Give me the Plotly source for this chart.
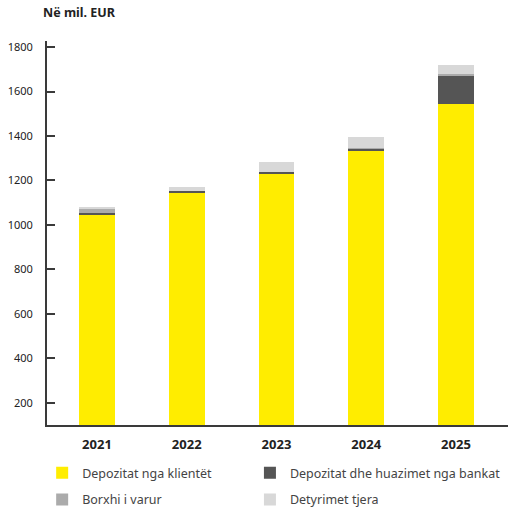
import plotly.graph_objects as go

# Vitet dhe përbërja e detyrimeve (në mil. EUR)
years = ["2021", "2022", "2023", "2024", "2025"]
depozitat_klientet = [1048, 1147, 1232, 1334, 1543]
depozitat_bankat = [7, 7, 7, 8, 130]
borxhi_varur = [17, 0, 0, 6, 5]
detyrimet_tjera = [10, 18, 44, 46, 40]

y_ticks = [200, 400, 600, 800, 1000, 1200, 1400, 1600, 1800]

# each series gets its own legend box so the key forms a 2 x 2 grid
series = [
    ("Depozitat nga klientët", depozitat_klientet, "#FFED00", "legend"),
    ("Depozitat dhe huazimet nga bankat", depozitat_bankat, "#555555", "legend2"),
    ("Borxhi i varur", borxhi_varur, "#ABABAB", "legend3"),
    ("Detyrimet tjera", detyrimet_tjera, "#D8D8D8", "legend4"),
]

FONT = "Noto Sans"

fig = go.Figure()
for name, vals, color, leg in series:
    fig.add_trace(go.Bar(
        x=years, y=vals, name=name, legend=leg,
        marker=dict(color=color, line=dict(width=0)),
        width=0.4,
    ))

legend_common = dict(
    orientation="v", xanchor="left", yanchor="middle",
    xref="container", yref="container",
    font=dict(family=FONT, size=12.5, color="#444444"),
    bgcolor="rgba(0,0,0,0)", itemclick=False, itemdoubleclick=False,
)

col1, col2 = 0.083, 0.492
row1, row2 = 0.074, 0.022

fig.update_layout(
    width=508, height=511,
    margin=dict(l=47, r=0, t=41, b=86, autoexpand=False),
    paper_bgcolor="white", plot_bgcolor="white",
    barmode="stack", showlegend=True,
    font=dict(family=FONT, color="#222222"),
    legend=dict(x=col1, y=row1, **legend_common),
    legend2=dict(x=col2, y=row1, **legend_common),
    legend3=dict(x=col1, y=row2, **legend_common),
    legend4=dict(x=col2, y=row2, **legend_common),
    xaxis=dict(
        type="category", range=[-0.557, 4.58],
        showline=True, linecolor="#3a3a3a", linewidth=2,
        ticks="", showgrid=False, zeroline=False,
        tickfont=dict(family=FONT, size=13, color="#222222", weight="bold"),
        ticklabelstandoff=6,
    ),
    yaxis=dict(
        range=[101, 1827], tickvals=y_ticks,
        showline=True, linecolor="#3a3a3a", linewidth=2,
        ticks="inside", ticklen=8, tickwidth=1.5, tickcolor="#3a3a3a",
        showgrid=False, zeroline=False,
        tickfont=dict(family=FONT, size=11, color="#222222"),
        ticklabelstandoff=10,
    ),
    annotations=[dict(
        text="<b>Në mil. EUR</b>", xref="paper", yref="paper",
        x=-0.012, y=1.0, xanchor="left", yanchor="bottom", yshift=18,
        showarrow=False, font=dict(family=FONT, size=12.5, color="#222222"),
    )],
)

fig.write_html("out.html")
